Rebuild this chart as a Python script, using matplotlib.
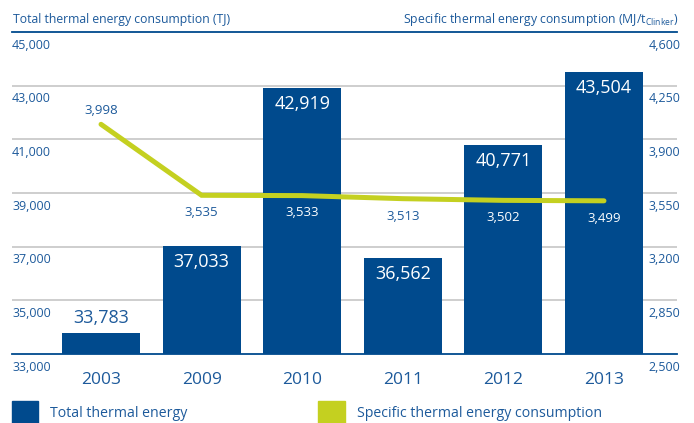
import matplotlib
matplotlib.use("Agg")
import matplotlib.pyplot as plt
from matplotlib.patches import Rectangle

plt.rcParams['font.family'] = ['Open Sans', 'DejaVu Sans']
plt.rcParams['mathtext.default'] = 'regular'

years = ['2003', '2009', '2010', '2011', '2012', '2013']
total_tj = [33783, 37033, 42919, 36562, 40771, 43504]
specific_mj = [3998, 3535, 3533, 3513, 3502, 3499]
left_ticks = [33000, 35000, 37000, 39000, 41000, 43000, 45000]
right_ticks = [2500, 2850, 3200, 3550, 3900, 4250, 4600]

bar_color = '#004a8d'
line_color = '#c4d020'
text_color = '#1d5a9b'
grid_color = '#c6c6c6'

W, H = 694, 423
fig = plt.figure(figsize=(W / 100, H / 100), dpi=100)
ax = fig.add_axes([12 / W, (H - 354) / H, 665 / W, 322 / H])

x = list(range(len(years)))
ax.bar(x, [v - left_ticks[0] for v in total_tj], bottom=left_ticks[0],
       width=0.775, color=bar_color, zorder=2)
ax.set_xlim(-0.885, 5.726)
ax.set_ylim(left_ticks[0], left_ticks[-1])

for v in left_ticks[1:-1]:
    ax.axhline(v, color=grid_color, linewidth=1.2, zorder=1)
for side in ['left', 'right']:
    ax.spines[side].set_visible(False)
ax.spines['top'].set_color(bar_color)
ax.spines['top'].set_linewidth(1.3)
ax.spines['bottom'].set_color(bar_color)
ax.spines['bottom'].set_linewidth(1.3)
ax.spines['bottom'].set_zorder(3)
ax.set_xticks([])
ax.set_yticks([])

# left axis labels sit just under their gridlines
for v in left_ticks:
    ax.annotate(f'{v:,}', xy=(0, v), xycoords=('axes fraction', 'data'),
                xytext=(0, -9.5), textcoords='offset points',
                ha='left', va='center', fontsize=9, color=text_color)

# year labels
for i, y in enumerate(years):
    ax.annotate(y, xy=(i, left_ticks[0]), xycoords='data',
                xytext=(0, -19), textcoords='offset points',
                ha='center', va='center', fontsize=12.5, color=text_color)

# bar values: inside the bar, or above it when the bar is too short
for i, v in enumerate(total_tj):
    if v - left_ticks[0] < 2000:
        ax.annotate(f'{v:,}', xy=(i, v), xytext=(0, 11), textcoords='offset points',
                    ha='center', va='center', fontsize=13, color=text_color)
    else:
        ax.annotate(f'{v:,}', xy=(i, v), xytext=(0, -11.5), textcoords='offset points',
                    ha='center', va='center', fontsize=13, color='white', zorder=4)

ax2 = ax.twinx()
ax2.set_ylim(right_ticks[0], right_ticks[-1])
ax2.set_xlim(ax.get_xlim())
ax2.axis('off')
ax2.plot(x, specific_mj, color=line_color, linewidth=3.6,
         solid_capstyle='round', solid_joinstyle='miter', zorder=3)

for v in right_ticks:
    ax2.annotate(f'{v:,}', xy=(1, v), xycoords=('axes fraction', 'data'),
                 xytext=(2.5, -9.5), textcoords='offset points',
                 ha='right', va='center', fontsize=9, color=text_color)

# line values: first one above the point, the rest below
for i, v in enumerate(specific_mj):
    inside = total_tj[i] > 39000 and i > 0
    off = 10 if i == 0 else -12.5
    ax2.annotate(f'{v:,}', xy=(i, v), xytext=(0, off), textcoords='offset points',
                 ha='center', va='center', fontsize=9.5,
                 color='white' if inside else text_color)

# headers above the top rule
fig.text(13 / W, (H - 20) / H, 'Total thermal energy consumption (TJ)',
         ha='left', va='center', fontsize=8.8, color=text_color)
fig.text(678 / W, (H - 20) / H,
         r'Specific thermal energy consumption (MJ/t$_{\mathregular{Clinker}}$)',
         ha='right', va='center', fontsize=8.8, color=text_color)

# legend
fig.patches.append(Rectangle((12 / W, -4 / H), 26 / W, 26 / H,
                             transform=fig.transFigure, color=bar_color))
fig.text(50 / W, (H - 413) / H, 'Total thermal energy',
         ha='left', va='center', fontsize=10.2, color=text_color)
fig.patches.append(Rectangle((318 / W, -4 / H), 27 / W, 26 / H,
                             transform=fig.transFigure, color=line_color))
fig.text(357 / W, (H - 413) / H, 'Specific thermal energy consumption',
         ha='left', va='center', fontsize=10.2, color=text_color)

fig.savefig('out.png', dpi=100)
